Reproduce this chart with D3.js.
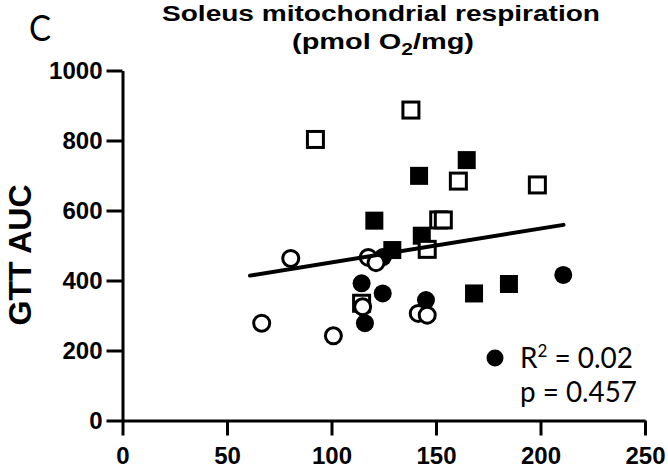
<!DOCTYPE html>
<html>
<head>
<meta charset="utf-8">
<script src="https://cdn.jsdelivr.net/npm/d3@7"></script>
<style>
  body { margin: 0; background: #fff; }
  svg { display: block; }
</style>
</head>
<body>
<div id="chart"></div>
<script>
// x = soleus respiration, y = GTT AUC
const openSquaresX = [138.0, 92.3, 160.7, 198.5, 151.3, 153.5, 145.8, 114.4];
const openSquaresY = [887, 803, 684, 673, 573, 573, 489, 335];
const filledSquaresX = [164.7, 141.9, 120.5, 143.2, 129.1, 168.2, 184.9];
const filledSquaresY = [744, 699, 571, 528, 487, 363, 390];
const filledCirclesX = [210.9, 114.4, 124.5, 145.2, 116.0, 124.6];
const filledCirclesY = [416, 392, 363, 344, 278, 467];
const openCirclesX = [100.9, 114.9, 141.5, 145.8, 117.6, 121.3, 80.5, 66.6];
const openCirclesY = [242, 325, 306, 301, 466, 451, 463, 278];
const fitX = [61, 211];
const fitY = [414, 559];
const xTicks = [0, 50, 100, 150, 200, 250];
const yTicks = [0, 200, 400, 600, 800, 1000];

const width = 668;
const height = 472;
const margin = {top: 70.5, left: 122.5, bottom: 51.5, right: 23};

const svg = d3.select("#chart").append("svg")
    .attr("width", width)
    .attr("height", height);

const x = d3.scaleLinear()
    .domain([0, 250])
    .range([margin.left, width - margin.right]);

const y = d3.scaleLinear()
    .domain([0, 1000])
    .range([height - margin.bottom, margin.top]);

const zip = (xs, ys) => xs.map((v, i) => ({x: v, y: ys[i]}));

// axes
const xAxis = svg.append("g")
    .attr("transform", `translate(0,${y(0)})`)
    .call(d3.axisBottom(x).tickValues(xTicks).tickFormat(d3.format("d"))
        .tickSize(15).tickPadding(11).tickSizeOuter(0));

const yAxis = svg.append("g")
    .attr("transform", `translate(${x(0)},0)`)
    .call(d3.axisLeft(y).tickValues(yTicks).tickFormat(d3.format("d"))
        .tickSize(16).tickPadding(4).tickSizeOuter(0));

[xAxis, yAxis].forEach(a => {
    a.selectAll("path, line").attr("stroke", "#000").attr("stroke-width", 3);
    a.selectAll("text")
        .attr("fill", "#000")
        .style("font-family", "'Liberation Sans', Arial, sans-serif")
        .style("font-weight", "bold")
        .style("font-size", "24px");
});

// markers
const sq = 16;
svg.append("g").selectAll("rect")
    .data(zip(filledSquaresX, filledSquaresY))
    .enter().append("rect")
    .attr("x", d => x(d.x) - 9)
    .attr("y", d => y(d.y) - 9)
    .attr("width", 18)
    .attr("height", 18)
    .attr("fill", "#000");

svg.append("g").selectAll("rect")
    .data(zip(openSquaresX, openSquaresY))
    .enter().append("rect")
    .attr("x", d => x(d.x) - sq / 2)
    .attr("y", d => y(d.y) - sq / 2)
    .attr("width", sq)
    .attr("height", sq)
    .attr("fill", "#fff")
    .attr("stroke", "#000")
    .attr("stroke-width", 3);

svg.append("g").selectAll("circle")
    .data(zip(filledCirclesX, filledCirclesY))
    .enter().append("circle")
    .attr("cx", d => x(d.x))
    .attr("cy", d => y(d.y))
    .attr("r", 9)
    .attr("fill", "#000");

svg.append("g").selectAll("circle")
    .data(zip(openCirclesX, openCirclesY))
    .enter().append("circle")
    .attr("cx", d => x(d.x))
    .attr("cy", d => y(d.y))
    .attr("r", 8)
    .attr("fill", "#fff")
    .attr("stroke", "#000")
    .attr("stroke-width", 3);

// regression line
svg.append("path")
    .datum(zip(fitX, fitY))
    .attr("d", d3.line().x(d => x(d.x)).y(d => y(d.y)))
    .attr("stroke", "#000")
    .attr("stroke-width", 4)
    .attr("stroke-linecap", "round")
    .attr("fill", "none");

// title
const title = svg.append("g")
    .style("font-family", "'Liberation Sans', Arial, sans-serif")
    .style("font-weight", "bold")
    .style("font-size", "22px");

title.append("text")
    .attr("x", 381).attr("y", 21)
    .attr("text-anchor", "middle")
    .attr("textLength", 438)
    .attr("lengthAdjust", "spacingAndGlyphs")
    .text("Soleus mitochondrial respiration");

const t2 = title.append("text")
    .attr("x", 383).attr("y", 49)
    .attr("text-anchor", "middle")
    .attr("textLength", 182)
    .attr("lengthAdjust", "spacingAndGlyphs");
t2.append("tspan").text("(pmol O");
t2.append("tspan").attr("dy", 6).style("font-size", "16px").text("2");
t2.append("tspan").attr("dy", -6).text("/mg)");

// y label
svg.append("text")
    .attr("transform", "translate(31,255) rotate(-90)")
    .attr("text-anchor", "middle")
    .style("font-family", "'Liberation Sans', Arial, sans-serif")
    .style("font-weight", "bold")
    .style("font-size", "32px")
    .text("GTT AUC");

// panel letter
svg.append("text")
    .attr("x", 29).attr("y", 41)
    .attr("textLength", 22)
    .attr("lengthAdjust", "spacingAndGlyphs")
    .style("font-family", "Lato, 'Open Sans', sans-serif")
    .style("font-size", "36px")
    .text("C");

// stats
svg.append("circle")
    .attr("cx", 495).attr("cy", 358)
    .attr("r", 8.5)
    .attr("fill", "#000");

const stats = svg.append("g")
    .style("font-family", "Lato, 'Open Sans', sans-serif")
    .style("font-size", "28px");

const r2 = stats.append("text")
    .attr("x", 520).attr("y", 368)
    .attr("textLength", 113)
    .attr("lengthAdjust", "spacingAndGlyphs");
r2.append("tspan").text("R");
r2.append("tspan").attr("dy", -11).style("font-size", "17px").text("2");
r2.append("tspan").attr("dy", 11).text(" = 0.02");

stats.append("text")
    .attr("x", 520).attr("y", 402)
    .attr("textLength", 117)
    .attr("lengthAdjust", "spacingAndGlyphs")
    .text("p = 0.457");
</script>
</body>
</html>
